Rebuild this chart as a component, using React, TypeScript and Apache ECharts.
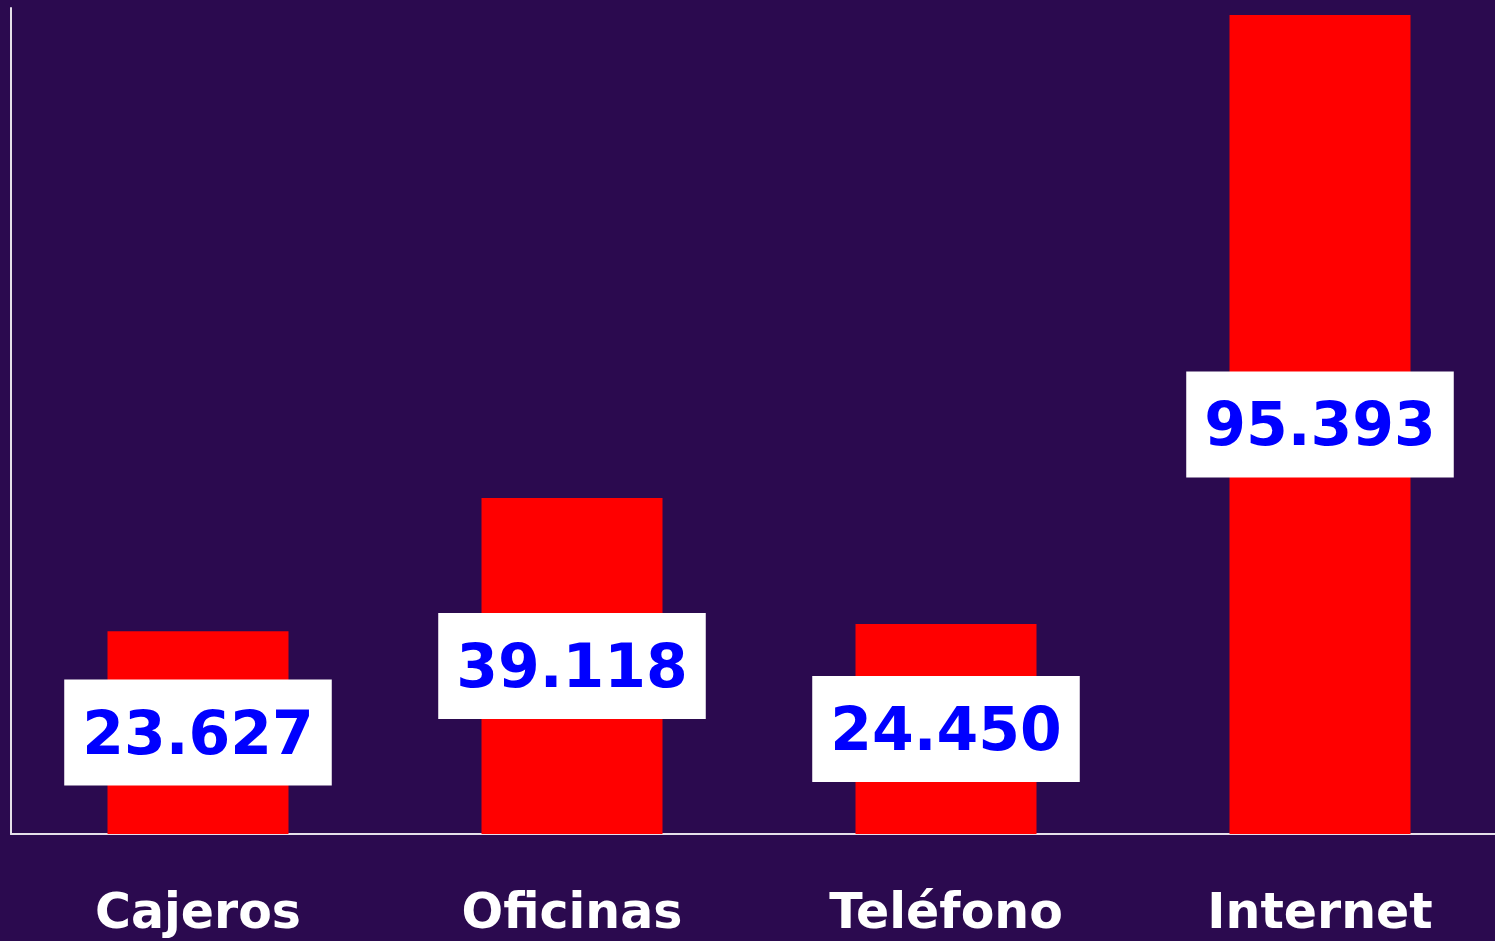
import React, { useEffect, useRef } from "react";
import * as echarts from "echarts";

const categories = ["Cajeros", "Oficinas", "Teléfono", "Internet"];
const values = [23627, 39118, 24450, 95393];

function fmt(v: number): string {
  return String(v).replace(/\B(?=(\d{3})+(?!\d))/g, ".");
}

export default function App() {
  const ref = useRef<HTMLDivElement>(null);
  useEffect(() => {
    if (!ref.current) return;
    const chart = echarts.init(ref.current, undefined, { renderer: "svg" });
    chart.setOption({
      animation: false,
      backgroundColor: "#2B0A4F",
      grid: { left: 11, top: 8, bottom: 107, right: 3, containLabel: false },
      xAxis: {
        type: "category",
        data: categories,
        axisLine: { show: true, lineStyle: { color: "#E6E0EA", width: 2 } },
        axisTick: { show: false },
        axisLabel: {
          color: "#FFFFFF",
          fontFamily: "DejaVu Sans",
          fontWeight: "bold",
          fontSize: 49,
          margin: 53,
        },
      },
      yAxis: {
        type: "value",
        min: 0,
        max: 96200,
        axisLine: { show: true, lineStyle: { color: "#E6E0EA", width: 2 } },
        axisTick: { show: false },
        axisLabel: { show: false },
        splitLine: { show: false },
      },
      series: [
        {
          type: "bar",
          data: values,
          barWidth: 181,
          itemStyle: { color: "#FF0000" },
          label: {
            show: true,
            position: "inside",
            formatter: (p: any) => fmt(p.value),
            backgroundColor: "#FFFFFF",
            color: "#0000FF",
            fontFamily: "DejaVu Sans",
            fontWeight: "bold",
            fontSize: 60,
            lineHeight: 60,
            padding: [23, 18, 23, 18],
          },
        },
      ],
    });
    return () => chart.dispose();
  }, []);
  return (
    <div
      style={{
        position: "fixed",
        left: 0,
        top: 0,
        width: 1495,
        height: 941,
        overflow: "hidden",
        background: "#2B0A4F",
      }}
    >
      <div ref={ref} style={{ width: 1510, height: 941 }} />
    </div>
  );
}
